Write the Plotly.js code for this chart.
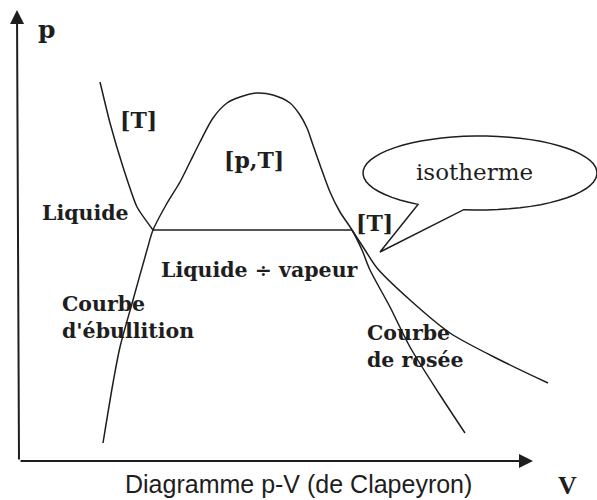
<!DOCTYPE html>
<html>
<head>
<meta charset="utf-8">
<script src="https://cdn.plot.ly/plotly-3.0.1.min.js"></script>
<style>
  html, body { margin: 0; padding: 0; background: #fff; }
  #chart { width: 597px; height: 500px; }
</style>
</head>
<body>
<div id="chart"></div>
<script>
// Saturation dome (bubble curve on the left, dew curve on the right), volume V vs pressure p
const domeV = [16.8, 18.8, 20.2, 22.8, 25.6, 26.8, 29.4, 32.2, 34.2, 36.2, 38.8, 41.6, 44.2, 47.6, 50.8, 54.2, 56.2, 57.6, 58.8, 60.2, 62.2, 64.2, 66.6, 68.6, 70.2, 74.2, 78.2, 84.2, 89.2];
const domeP = [3.6, 15.6, 22.8, 32.2, 42.2, 46.2, 51.2, 55.8, 59.8, 63.8, 68.6, 71.6, 72.8, 73.6, 73.2, 71.6, 69.2, 66.6, 63.2, 59.2, 53.8, 49.8, 46.2, 42.2, 38.2, 30.8, 22.8, 13.2, 5.6];

// Isotherm [T]: liquid branch, two-phase plateau, vapour branch
const isoLiquidV = [16.2, 18.2, 20.8, 23.6, 26.8];
const isoLiquidP = [75.8, 67.6, 58.8, 50.8, 46.2];
const plateauV = [26.8, 66.6];
const plateauP = [46.2, 46.2];
const isoVapourV = [66.6, 69.2, 71.6, 78.2, 86.2, 96.2, 105.8];
const isoVapourP = [46.2, 42.2, 38.6, 32.2, 25.6, 20.2, 15.6];

// Region and curve labels
const labelTexts = ["[T]", "[p,T]", "Liquide", "[T]", "Liquide ÷ vapeur", "Courbe<br>d'ébullition", "Courbe<br>de rosée"];
const labelV = [23.8, 47.0, 4.2, 71.0, 28.0, 8.2, 69.2];
const labelP = [68.2, 60.2, 49.6, 47.6, 38.2, 28.8, 23.0];

const ink = '#1e1e1e';
const serifBold = { family: 'DejaVu Serif, Liberation Serif, serif', size: 20, color: ink, weight: 'bold' };

function curve(x, y, smoothing) {
  return {
    type: 'scatter', mode: 'lines', x: x, y: y, hoverinfo: 'skip',
    line: { color: ink, width: 1.5, shape: smoothing ? 'spline' : 'linear', smoothing: smoothing || 0 }
  };
}

const traces = [
  curve(domeV, domeP, 0.8),
  curve(isoLiquidV, isoLiquidP, 0.5),
  curve(plateauV, plateauP, 0),
  curve(isoVapourV, isoVapourP, 0.8)
];

// Speech bubble around "isotherme": ellipse with a tail pointing at the isotherm
function bubblePath(cx, cy, rx, ry, a0, a1, tip) {
  let d = '';
  const n = 60;
  for (let i = 0; i <= n; i++) {
    const a = (a0 + (a1 - a0) * i / n) * Math.PI / 180;
    const px = cx + rx * Math.cos(a), py = cy + ry * Math.sin(a);
    d += (i === 0 ? 'M' : 'L') + px.toFixed(3) + ',' + py.toFixed(3) + ' ';
  }
  d += 'L' + tip[0] + ',' + tip[1] + ' Z';
  return d;
}

const annotations = [];
const anchors = ['center', 'center', 'left', 'center', 'left', 'left', 'left'];
labelTexts.forEach((t, i) => {
  const big = t.startsWith('[');
  annotations.push({
    x: labelV[i], y: labelP[i], xref: 'x', yref: 'y', text: t, showarrow: false,
    xanchor: anchors[i], yanchor: 'middle', align: 'left',
    font: Object.assign({}, serifBold, { size: big ? 22 : 20.5 })
  });
});

// Axis arrows and axis names
annotations.push({
  x: -0.4, y: 90.2, ax: 0, ay: 0, xref: 'x', yref: 'y', axref: 'x', ayref: 'y',
  showarrow: true, arrowhead: 2, arrowsize: 1.4, arrowwidth: 2, arrowcolor: ink, text: ''
});
annotations.push({
  x: 102.8, y: 0, ax: 0, ay: 0, xref: 'x', yref: 'y', axref: 'x', ayref: 'y',
  showarrow: true, arrowhead: 2, arrowsize: 1.4, arrowwidth: 2, arrowcolor: ink, text: ''
});
annotations.push({
  x: 5.4, y: 86.4, xref: 'x', yref: 'y', text: 'p', showarrow: false,
  font: Object.assign({}, serifBold, { size: 25 })
});
annotations.push({
  x: 109.6, y: -4.8, xref: 'x', yref: 'y', text: 'V', showarrow: false,
  font: { family: 'Liberation Serif, serif', size: 26, color: ink, weight: 'bold' }
});
annotations.push({
  x: 91.0, y: 57.8, xref: 'x', yref: 'y', text: 'isotherme', showarrow: false,
  font: { family: 'DejaVu Serif, Liberation Serif, serif', size: 23, color: ink }
});
// Figure caption along the bottom edge
annotations.push({
  x: 0.5, y: 0.0, xref: 'paper', yref: 'paper', yanchor: 'bottom', xanchor: 'center',
  text: 'Diagramme p-V (de Clapeyron)', showarrow: false,
  font: { family: 'Liberation Sans, Arial, sans-serif', size: 25, color: ink }
});

const layout = {
  width: 597, height: 500,
  margin: { l: 0, r: 0, t: 0, b: 0 },
  paper_bgcolor: '#ffffff', plot_bgcolor: '#ffffff',
  showlegend: false,
  xaxis: { range: [-3.8, 115.6], visible: false, fixedrange: true },
  yaxis: { range: [-7.8, 92.2], visible: false, fixedrange: true },
  shapes: [
    {
      type: 'path', xref: 'x', yref: 'y',
      path: bubblePath(92.2, 57.6, 23.4, 7.4, 262, 598, [72.2, 41.8]),
      line: { color: ink, width: 1.5 }, fillcolor: 'rgba(255,255,255,0)'
    }
  ],
  annotations: annotations
};

Plotly.newPlot('chart', traces, layout, { displayModeBar: false, staticPlot: true });
</script>
</body>
</html>
